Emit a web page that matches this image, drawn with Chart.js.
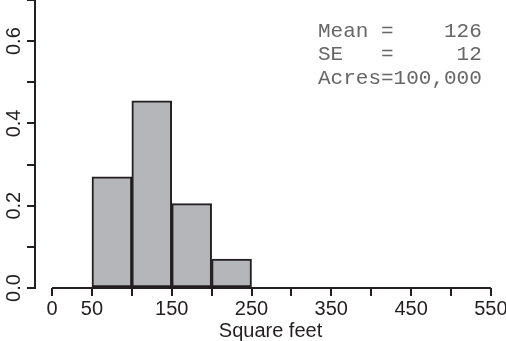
<!DOCTYPE html>
<html>
<head>
<meta charset="utf-8">
<script src="https://cdn.jsdelivr.net/npm/chart.js@4"></script>
<style>
  body { margin: 0; background: #fff; }
  #wrap { width: 506px; height: 341px; }
</style>
</head>
<body>
<div id="wrap"><canvas id="histChart" width="506" height="341"></canvas></div>
<script>
// histogram bins (midpoints) and relative frequencies
const binMids = [75, 125, 175, 225];
const freqs = [0.27, 0.455, 0.205, 0.07];

const xTicks = [0, 50, 100, 150, 200, 250, 300, 350, 400, 450, 500, 550];
const xTickLabels = ['0', '50', '', '150', '', '250', '', '350', '', '450', '', '550'];
const yTicks = [0, 0.1, 0.2, 0.3, 0.4, 0.5, 0.6, 0.7];
const yTickLabels = ['0.0', '', '0.2', '', '0.4', '', '0.6', ''];

const statLines = ['Mean =    126', 'SE   =     12', 'Acres=100,000'];

const ink = '#231f20';
const sans = '"Liberation Sans", Arial, Helvetica, sans-serif';

// x axis line only spans the tick range (R style)
const axisLine = {
    id: 'axisLine',
    afterDraw(chart) {
        const ctx = chart.ctx;
        const x = chart.scales.x;
        const y0 = chart.scales.y.getPixelForValue(0);
        ctx.save();
        ctx.strokeStyle = ink;
        ctx.lineWidth = 2;
        ctx.beginPath();
        ctx.moveTo(x.getPixelForValue(xTicks[0]), y0);
        ctx.lineTo(x.getPixelForValue(xTicks[xTicks.length - 1]), y0);
        ctx.stroke();
        ctx.restore();
    }
};

// the stats box top right
const statsBox = {
    id: 'statsBox',
    afterDraw(chart) {
        const ctx = chart.ctx;
        ctx.save();
        ctx.font = '21px "Liberation Mono", "Courier New", monospace';
        ctx.fillStyle = '#666';
        ctx.textAlign = 'left';
        ctx.textBaseline = 'alphabetic';
        statLines.forEach((s, i) => {
            ctx.fillText(s, 318, 37 + i * 23.3);
        });
        ctx.restore();
    }
};

const ctxHist = document.getElementById('histChart').getContext('2d');
const histChart = new Chart(ctxHist, {
    type: 'bar',
    data: {
        datasets: [{
            data: binMids.map((m, i) => ({ x: m, y: freqs[i] })),
            backgroundColor: '#b5b6ba',
            borderColor: ink,
            borderWidth: 2,
            borderSkipped: false,
            barPercentage: 1,
            categoryPercentage: 1
        }]
    },
    options: {
        responsive: false,
        animation: false,
        layout: { padding: { left: 0, right: 0, top: 0, bottom: 0 } },
        scales: {
            x: {
                type: 'linear',
                offset: false,
                min: -21.4,
                max: 569,
                afterBuildTicks: s => { s.ticks = xTicks.map(v => ({ value: v })); },
                afterFit: s => { s.height = 53; s.paddingLeft = 0; s.paddingRight = 0; },
                border: { display: false },
                grid: {
                    offset: false,
                    drawOnChartArea: false,
                    drawTicks: true,
                    tickLength: 8,
                    color: ink,
                    lineWidth: 2
                },
                ticks: {
                    autoSkip: false,
                    maxRotation: 0,
                    padding: 1,
                    color: ink,
                    font: { family: sans, size: 20 },
                    callback: (v, i) => xTickLabels[i]
                },
                title: {
                    display: true,
                    text: 'Square feet',
                    color: ink,
                    font: { family: sans, size: 20, lineHeight: 1 },
                    padding: { top: 0, bottom: 0 }
                }
            },
            y: {
                min: 0,
                max: 0.7,
                afterBuildTicks: s => { s.ticks = yTicks.map(v => ({ value: v })); },
                afterFit: s => { s.width = 35; s.paddingTop = 0; s.paddingBottom = 0; },
                border: { display: true, color: ink, width: 2 },
                grid: {
                    drawOnChartArea: false,
                    drawTicks: true,
                    tickLength: 8,
                    color: ink,
                    lineWidth: 2
                },
                ticks: {
                    autoSkip: false,
                    minRotation: 90,
                    maxRotation: 90,
                    crossAlign: 'center',
                    padding: -1,
                    color: ink,
                    font: { family: sans, size: 20 },
                    callback: (v, i) => yTickLabels[i]
                }
            }
        },
        plugins: {
            legend: { display: false },
            tooltip: { enabled: false }
        }
    },
    plugins: [axisLine, statsBox]
});
</script>
</body>
</html>
